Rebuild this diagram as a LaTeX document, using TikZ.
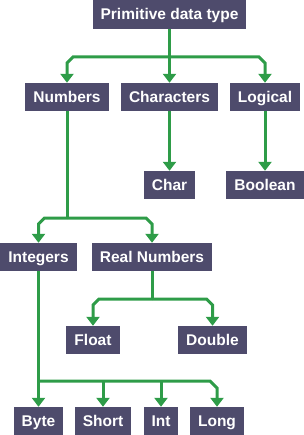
\documentclass[tikz,border=0pt]{standalone}
\usepackage{fontspec}
\setmainfont{Liberation Sans}
\usetikzlibrary{positioning, calc, arrows.meta}
\definecolor{Slate}{HTML}{4E4B6C}
\definecolor{Leaf}{HTML}{2E9C48}
\definecolor{White}{HTML}{FFFFFF}
\tikzset{
    typebox/.style={rectangle, fill=Slate, text=White, font=\bfseries\fontsize{15.5}{18}\selectfont,
        inner xsep=8pt, inner ysep=0pt, minimum height=28pt, text height=11pt, text depth=0pt},
    link/.style={line width=3pt, color=Leaf},
    tip/.style={link, -{Triangle[width=13pt, length=9pt]}},
}

\begin{document}
\begin{tikzpicture}[x=1pt, y=-1pt]
    \useasboundingbox (0,0) rectangle (304,435);

    % --- Livello 0 e 1 ---
    \node[typebox, minimum height=29pt] (root) at (169.5,14.5) {Primitive data type};
    \node[typebox] (numbers) at (67,97) {Numbers};
    \node[typebox] (chars) at (169.5,97) {Characters};
    \node[typebox] (logical) at (265,97) {Logical};

    % --- Foglie di Characters / Logical ---
    \node[typebox] (char) at (169.5,185) {Char};
    \node[typebox] (boolean) at (265,185) {Boolean};

    % --- Sotto Numbers ---
    \node[typebox] (integers) at (38.5,257) {Integers};
    \node[typebox] (realnum) at (152,257) {Real Numbers};
    \node[typebox] (float) at (93,340) {Float};
    \node[typebox] (double) at (212.5,340) {Double};

    % --- Sotto Integers ---
    \node[typebox] (byte) at (38.5,421) {Byte};
    \node[typebox] (short) at (103,421) {Short};
    \node[typebox] (int) at (161,421) {Int};
    \node[typebox] (long) at (217,421) {Long};

    % Livelli delle barre orizzontali
    \coordinate (bar1) at (0,57);
    \coordinate (bar2) at (0,218);
    \coordinate (bar3) at (0,299);
    \coordinate (bar4) at (0,381);

    % Primitive data type -> 3 rami
    \draw[tip] (root.south) -- (chars.north);
    \draw[tip] (root.south |- bar1) -- ($(numbers.north |- bar1)+(6,0)$) -- ++(-6,6) -- (numbers.north);
    \draw[tip] (root.south |- bar1) -- ($(logical.north |- bar1)+(-6,0)$) -- ++(6,6) -- (logical.north);

    % Characters / Logical
    \draw[tip] (chars.south) -- (char.north);
    \draw[tip] (logical.south) -- (boolean.north);

    % Numbers -> Integers, Real Numbers
    \draw[link] (numbers.south) -- (numbers.south |- bar2);
    \draw[tip] (numbers.south |- bar2) -- ($(integers.north |- bar2)+(6,0)$) -- ++(-6,6) -- (integers.north);
    \draw[tip] (numbers.south |- bar2) -- ($(realnum.north |- bar2)+(-6,0)$) -- ++(6,6) -- (realnum.north);

    % Real Numbers -> Float, Double
    \draw[link] (realnum.south) -- (realnum.south |- bar3);
    \draw[tip] (realnum.south |- bar3) -- ($(float.north |- bar3)+(6,0)$) -- ++(-6,6) -- (float.north);
    \draw[tip] (realnum.south |- bar3) -- ($(double.north |- bar3)+(-6,0)$) -- ++(6,6) -- (double.north);

    % Integers -> Byte, Short, Int, Long
    \draw[tip] (integers.south) -- (byte.north);
    \draw[tip] (integers.south |- bar4) -- ($(long.north |- bar4)+(-7,0)$) -- ++(7,7) -- (long.north);
    \draw[tip] (short.north |- bar4) -- (short.north);
    \draw[tip] (int.north |- bar4) -- (int.north);

\end{tikzpicture}
\end{document}
